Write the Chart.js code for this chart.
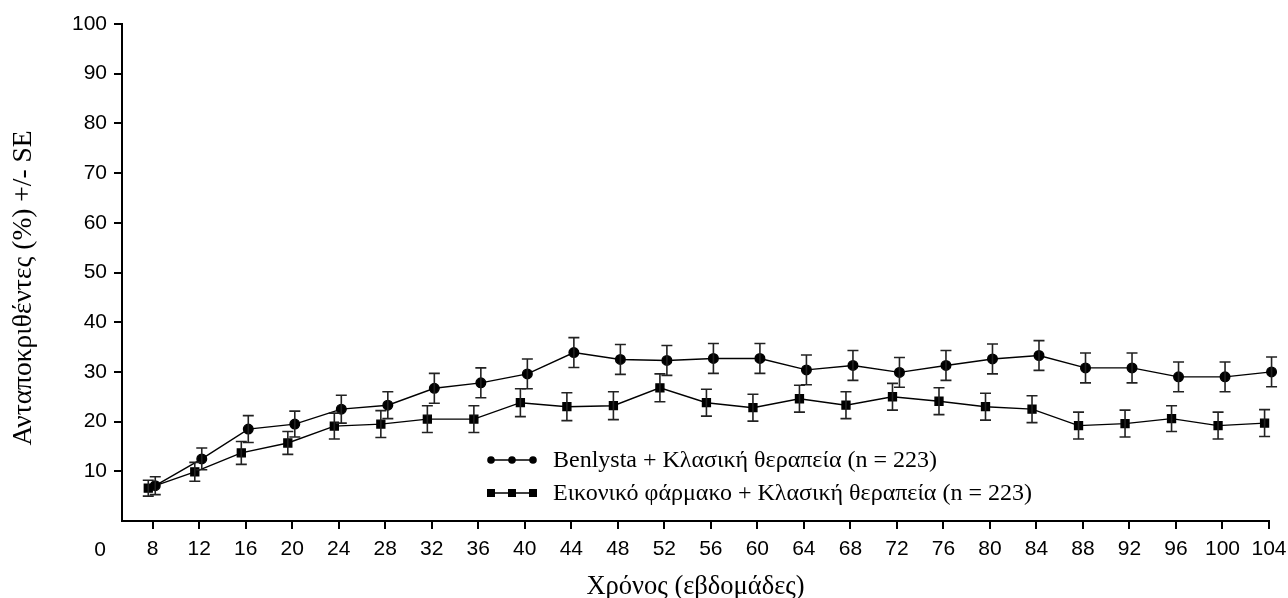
<!DOCTYPE html>
<html>
<head>
<meta charset="utf-8">
<script src="https://cdn.jsdelivr.net/npm/chart.js@4"></script>
<style>
  body { margin: 0; background: #fff; }
  canvas { display: block; }
</style>
</head>
<body>
<canvas id="chart" width="1288" height="598"></canvas>
<script>
const weeks = [8, 12, 16, 20, 24, 28, 32, 36, 40, 44, 48, 52, 56, 60, 64, 68, 72, 76, 80, 84, 88, 92, 96, 100, 104];
const benlysta = [7.1, 12.5, 18.5, 19.5, 22.5, 23.3, 26.7, 27.8, 29.6, 33.9, 32.5, 32.3, 32.7, 32.7, 30.4, 31.3, 29.9, 31.3, 32.6, 33.3, 30.8, 30.8, 29.0, 29.0, 30.0];
const benlystaSE = [1.8, 2.2, 2.7, 2.6, 2.8, 2.7, 3.0, 3.0, 3.0, 3.0, 3.0, 3.0, 3.0, 3.0, 3.0, 3.0, 3.0, 3.0, 3.0, 3.0, 3.0, 3.0, 3.0, 3.0, 3.0];
const placebo = [6.6, 9.9, 13.7, 15.7, 19.1, 19.5, 20.5, 20.5, 23.8, 23.0, 23.2, 26.8, 23.8, 22.8, 24.6, 23.3, 25.0, 24.1, 23.0, 22.5, 19.2, 19.6, 20.6, 19.2, 19.7];
const placeboSE = [1.6, 1.9, 2.3, 2.3, 2.6, 2.7, 2.7, 2.7, 2.8, 2.8, 2.8, 2.8, 2.7, 2.7, 2.7, 2.7, 2.7, 2.7, 2.7, 2.7, 2.7, 2.7, 2.6, 2.7, 2.7];
const yTicks = [10, 20, 30, 40, 50, 60, 70, 80, 90, 100];
const seriesLabels = ["Benlysta + Κλασική θεραπεία (n = 223)", "Εικονικό φάρμακο + Κλασική θεραπεία (n = 223)"];
const xTitle = "Χρόνος (εβδομάδες)";
const yTitle = "Ανταποκριθέντες (%) +/- SE";

// small horizontal dodge so the two series don't sit on top of each other
const dodge = [0.22, -0.38];
const errors = [benlystaSE, placeboSE];

const sans = "'Liberation Sans', Arial, sans-serif";
const serif = "'Liberation Serif', 'Times New Roman', serif";

const errorBars = {
  id: "errorBars",
  afterDatasetsDraw(chart) {
    const ctx = chart.ctx;
    const y = chart.scales.y;
    ctx.save();
    ctx.strokeStyle = "#222";
    ctx.lineWidth = 1.6;
    chart.data.datasets.forEach((ds, i) => {
      const meta = chart.getDatasetMeta(i);
      meta.data.forEach((pt, j) => {
        const v = ds.data[j].y;
        const top = y.getPixelForValue(v + errors[i][j]);
        const bot = y.getPixelForValue(v - errors[i][j]);
        ctx.beginPath();
        ctx.moveTo(pt.x, top); ctx.lineTo(pt.x, bot);
        ctx.moveTo(pt.x - 5.5, top); ctx.lineTo(pt.x + 5.5, top);
        ctx.moveTo(pt.x - 5.5, bot); ctx.lineTo(pt.x + 5.5, bot);
        ctx.stroke();
      });
    });
    ctx.restore();
  }
};

const extras = {
  id: "extras",
  afterDraw(chart) {
    const ctx = chart.ctx;
    const area = chart.chartArea;
    ctx.save();
    ctx.fillStyle = "#000";
    // origin label
    ctx.font = "21px " + sans;
    ctx.textAlign = "center";
    ctx.textBaseline = "middle";
    ctx.fillText("0", area.left - 22, 550);

    // axis titles
    ctx.textBaseline = "alphabetic";
    ctx.font = "26.5px " + serif;
    ctx.fillText(xTitle, (area.left + area.right) / 2, 594);
    ctx.textBaseline = "middle";
    ctx.font = "27.5px " + serif;
    ctx.translate(24, 288);
    ctx.rotate(-Math.PI / 2);
    ctx.fillText(yTitle, 0, 0);
    ctx.setTransform(1, 0, 0, 1, 0, 0);

    // legend
    const rows = [460, 493];
    ctx.textAlign = "left";
    ctx.font = "24px " + serif;
    rows.forEach((ly, i) => {
      ctx.strokeStyle = "#000";
      ctx.lineWidth = 1.3;
      ctx.beginPath();
      ctx.moveTo(488, ly); ctx.lineTo(536, ly);
      ctx.stroke();
      [491, 512, 533].forEach(mx => {
        ctx.beginPath();
        if (i === 0) {
          ctx.arc(mx, ly, 3.8, 0, Math.PI * 2);
          ctx.fill();
        } else {
          ctx.fillRect(mx - 4, ly - 4, 8, 8);
        }
      });
      ctx.fillText(seriesLabels[i], 553, ly + 1);
    });
    ctx.restore();
  }
};

new Chart(document.getElementById("chart"), {
  type: "line",
  data: {
    datasets: [
      {
        label: seriesLabels[0],
        data: weeks.map((w, i) => ({ x: w + dodge[0], y: benlysta[i] })),
        borderColor: "#000",
        backgroundColor: "#000",
        borderWidth: 1.4,
        pointStyle: "circle",
        pointRadius: 4.8,
        pointHoverRadius: 4.8,
        clip: false,
      },
      {
        label: seriesLabels[1],
        data: weeks.map((w, i) => ({ x: w + dodge[1], y: placebo[i] })),
        borderColor: "#000",
        backgroundColor: "#000",
        borderWidth: 1.4,
        pointStyle: "rect",
        pointRadius: 5.6,
        pointHoverRadius: 5.6,
        clip: false,
      },
    ],
  },
  options: {
    responsive: false,
    animation: false,
    events: [],
    layout: { padding: { top: 24, right: 19, left: 0, bottom: 0 } },
    plugins: { legend: { display: false }, tooltip: { enabled: false } },
    scales: {
      x: {
        type: "linear",
        min: 5.36,
        max: 104,
        afterBuildTicks: (scale) => { scale.ticks = weeks.map(v => ({ value: v })); },
        afterFit: (scale) => {
          scale.height = 77;
          // keep the last label from squeezing the plot area
          scale.paddingLeft = 0;
          scale.paddingRight = 0;
        },
        grid: { display: true, drawOnChartArea: false, drawTicks: true, tickLength: 8, color: "#000", lineWidth: 2 },
        border: { display: true, color: "#000", width: 2 },
        ticks: { color: "#000", font: { family: sans, size: 21 }, padding: 8, maxRotation: 0, autoSkip: false },
      },
      y: {
        min: 0,
        max: 100,
        afterBuildTicks: (scale) => { scale.ticks = yTicks.map(v => ({ value: v })); },
        afterFit: (scale) => { scale.width = 122; },
        grid: { display: true, drawOnChartArea: false, drawTicks: true, tickLength: 8, color: "#000", lineWidth: 2 },
        border: { display: true, color: "#000", width: 2 },
        ticks: { color: "#000", font: { family: sans, size: 21 }, padding: 7 },
      },
    },
  },
  plugins: [errorBars, extras],
});
</script>
</body>
</html>
